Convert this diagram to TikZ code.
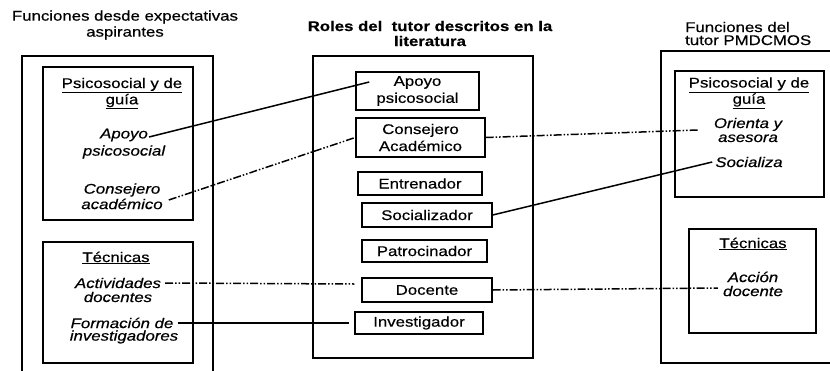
\documentclass[tikz,border=0pt]{standalone}
\usepackage{fontspec}
\setmainfont{Liberation Sans}[FakeStretch=1.2, FakeBold=0.5]
\usetikzlibrary{calc}
\begin{document}
\begin{tikzpicture}[x=1pt,y=-1pt,
  frame/.style={line width=1.4pt},
  box/.style={draw, line width=1.4pt, inner sep=0pt, align=center, font=\fontsize{14}{17}\selectfont},
  txt/.style={font=\fontsize{14}{16}\selectfont, align=center, inner sep=1pt},
  head/.style={font=\fontsize{14}{14}\selectfont, align=center, inner sep=1pt},
  itx/.style={font=\fontsize{14}{14}\selectfont\itshape, align=center, inner sep=1pt},
  solidc/.style={line width=1.5pt},
  ddot/.style={line width=1.5pt, dash pattern=on 8pt off 2pt on 1.5pt off 2pt on 1.5pt off 2pt}]
\useasboundingbox (0,0) rectangle (830,370);

% titles
\node[txt] (t1) at (125,25) {Funciones desde expectativas\\aspirantes};
\node[txt, font=\fontsize{14}{15}\selectfont\bfseries] (t2) at (430,33.5) {Roles del\ \ tutor descritos en la\\literatura};
\node[txt, align=left, anchor=west, font=\fontsize{14}{13}\selectfont] (t3) at (684,33.5) {Funciones del\\tutor PMDCMOS};

% left column
\draw[frame] (22,372) -- (22,56) -- (213,56) -- (213,372);
\node[box, minimum width=150pt, minimum height=153pt] (lb1) at (118,143.5) {};
\node[head] (lhead1) at (122,93.5) {\underline{Psicosocial y de}\\\underline{guía}};
\node[itx] (lApoyo) at (124,135) {Apoyo};
\node[itx] (lPsico) at (124,152) {psicosocial};
\node[itx] (lCons) at (122,190) {Consejero};
\node[itx] (lAcad) at (122,204) {académico};
\node[box, minimum width=150pt, minimum height=121pt] (lb2) at (118,302.5) {};
\node[head] (lhead2) at (116,258) {\underline{Técnicas}};
\node[itx] (lAct) at (118,283) {Actividades};
\node[itx] (lDocs) at (118,297) {docentes};
\node[itx] (lForm) at (122,323) {Formación de};
\node[itx] (lInv) at (124,337) {investigadores};

% middle column
\node[draw, line width=1.4pt, minimum width=220pt, minimum height=302pt] (mOuter) at (423,207) {};
\node[box, minimum width=123pt, minimum height=38pt] (mApoyo) at (417.5,91) {Apoyo\\psicosocial};
\node[box, minimum width=129pt, minimum height=39pt] (mCons) at (420.5,137.5) {Consejero\\Académico};
\node[box, minimum width=124pt, minimum height=23pt] (mEntr) at (420,183.5) {Entrenador};
\node[box, minimum width=130pt, minimum height=24pt] (mSocial) at (427,215) {Socializador};
\node[box, minimum width=125pt, minimum height=22pt] (mPatr) at (424.5,251) {Patrocinador};
\node[box, minimum width=130pt, minimum height=24pt] (mDoc) at (427,290) {Docente};
\node[box, minimum width=128pt, minimum height=22pt] (mInv) at (419,323) {Investigador};

% right column
\draw[frame] (832,51) -- (661,51) -- (661,363) -- (832,363);
\node[box, minimum width=149pt, minimum height=126pt] (rb1) at (749.5,134) {};
\node[head] (rhead1) at (749,93) {\underline{Psicosocial y de}\\\underline{guía}};
\node[itx] (rOri) at (748,130) {Orienta y\\asesora};
\node[itx] (rSoc) at (749,162) {Socializa};
\node[box, minimum width=127pt, minimum height=104pt] (rb2) at (752.5,281) {};
\node[head] (rhead2) at (753,244) {\underline{Técnicas}};
\node[itx] (rAcc) at (753,284) {Acción\\docente};

% connectors
\draw[solidc] ($(lApoyo.east)+(0,2)$) -- ($(mApoyo.west)+(14,-9)$);
\draw[ddot] ($(lAcad.east)+(5,-4)$) -- (mCons.west);
\draw[ddot] (mCons.east) -- ($(rOri.west)+(-15,0)$);
\draw[solidc] (mSocial.east) -- ($(rSoc.west)+(-2,0)$);
\draw[ddot] ($(lAct.east)+(3,0)$) -- ($(mDoc.west)+(-7,-6)$);
\draw[ddot] (mDoc.east) -- ($(rAcc.west)+(-4,4)$);
\draw[solidc] ($(lForm.east)+(3,0)$) -- ($(mInv.west)+(-5,0)$);
\end{tikzpicture}
\end{document}
